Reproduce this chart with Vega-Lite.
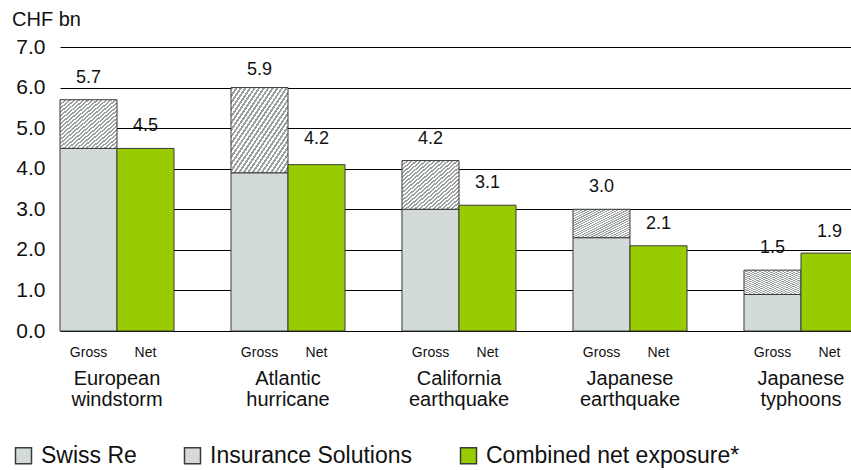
{
  "$schema": "https://vega.github.io/schema/vega-lite/v6.json",
  "width": 798,
  "height": 284,
  "padding": {"left": 12, "top": 10, "right": 0, "bottom": 0},
  "title": {"text": "CHF bn", "anchor": "start", "frame": "bounds", "fontSize": 20, "fontWeight": "normal", "font": "Liberation Sans", "color": "#111", "offset": 6},
  "config": {"view": {"stroke": null}, "font": "Liberation Sans"},
  "datasets": {
    "parts": [
      {"hazard": "European windstorm", "basis": "Gross", "component": "Swiss Re", "value": 4.5},
      {"hazard": "European windstorm", "basis": "Gross", "component": "Insurance Solutions", "value": 1.2},
      {"hazard": "European windstorm", "basis": "Net", "component": "Combined net exposure*", "value": 4.5},
      {"hazard": "Atlantic hurricane", "basis": "Gross", "component": "Swiss Re", "value": 3.9},
      {"hazard": "Atlantic hurricane", "basis": "Gross", "component": "Insurance Solutions", "value": 2.1},
      {"hazard": "Atlantic hurricane", "basis": "Net", "component": "Combined net exposure*", "value": 4.1},
      {"hazard": "California earthquake", "basis": "Gross", "component": "Swiss Re", "value": 3.0},
      {"hazard": "California earthquake", "basis": "Gross", "component": "Insurance Solutions", "value": 1.2},
      {"hazard": "California earthquake", "basis": "Net", "component": "Combined net exposure*", "value": 3.1},
      {"hazard": "Japanese earthquake", "basis": "Gross", "component": "Swiss Re", "value": 2.3},
      {"hazard": "Japanese earthquake", "basis": "Gross", "component": "Insurance Solutions", "value": 0.7},
      {"hazard": "Japanese earthquake", "basis": "Net", "component": "Combined net exposure*", "value": 2.1},
      {"hazard": "Japanese typhoons", "basis": "Gross", "component": "Swiss Re", "value": 0.9},
      {"hazard": "Japanese typhoons", "basis": "Gross", "component": "Insurance Solutions", "value": 0.6},
      {"hazard": "Japanese typhoons", "basis": "Net", "component": "Combined net exposure*", "value": 1.92}
    ],
    "totals": [
      {"hazard": "European windstorm", "basis": "Gross", "total": 5.7},
      {"hazard": "European windstorm", "basis": "Net", "total": 4.5},
      {"hazard": "Atlantic hurricane", "basis": "Gross", "total": 5.9},
      {"hazard": "Atlantic hurricane", "basis": "Net", "total": 4.2},
      {"hazard": "California earthquake", "basis": "Gross", "total": 4.2},
      {"hazard": "California earthquake", "basis": "Net", "total": 3.1},
      {"hazard": "Japanese earthquake", "basis": "Gross", "total": 3.0},
      {"hazard": "Japanese earthquake", "basis": "Net", "total": 2.1},
      {"hazard": "Japanese typhoons", "basis": "Gross", "total": 1.5},
      {"hazard": "Japanese typhoons", "basis": "Net", "total": 1.9}
    ]
  },
  "layer": [
    {
      "data": {"name": "parts"},
      "mark": {"type": "bar", "stroke": "#3a3a3a", "strokeWidth": 1},
      "encoding": {
        "x": {
          "field": "hazard", "type": "nominal",
          "sort": ["European windstorm", "Atlantic hurricane", "California earthquake", "Japanese earthquake", "Japanese typhoons"],
          "scale": {"paddingInner": 0.3333, "paddingOuter": 0},
          "axis": {"title": null, "domain": false, "ticks": false, "labelAngle": 0, "labelExpr": "split(datum.label, ' ')", "labelFontSize": 20, "labelLineHeight": 21, "labelPadding": 37, "labelColor": "#111", "labelLimit": 0}
        },
        "xOffset": {"field": "basis", "type": "nominal", "sort": ["Gross", "Net"], "scale": {"paddingInner": 0, "paddingOuter": 0}},
        "y": {
          "field": "value", "type": "quantitative", "stack": "zero",
          "scale": {"domain": [0, 7], "nice": false},
          "axis": {"title": null, "values": [0, 1, 2, 3, 4, 5, 6, 7], "format": ".1f", "grid": true, "gridColor": "#000", "gridOpacity": 1, "gridWidth": 1, "domain": false, "ticks": false, "labelFontSize": 21, "labelPadding": 15, "labelColor": "#111"}
        },
        "fill": {
          "condition": {"test": "datum.component === 'Insurance Solutions'", "value": {"gradient": "linear", "x1": 0, "y1": 0, "x2": 1, "y2": 1, "stops": [
                {"offset": 0, "color": "#9aa19e"}, {"offset": 0.02, "color": "#9aa19e"}, {"offset": 0.02, "color": "#ffffff"}, {"offset": 0.04, "color": "#ffffff"},
                {"offset": 0.04, "color": "#9aa19e"}, {"offset": 0.06, "color": "#9aa19e"}, {"offset": 0.06, "color": "#ffffff"}, {"offset": 0.08, "color": "#ffffff"},
                {"offset": 0.08, "color": "#9aa19e"}, {"offset": 0.10, "color": "#9aa19e"}, {"offset": 0.10, "color": "#ffffff"}, {"offset": 0.12, "color": "#ffffff"},
                {"offset": 0.12, "color": "#9aa19e"}, {"offset": 0.14, "color": "#9aa19e"}, {"offset": 0.14, "color": "#ffffff"}, {"offset": 0.16, "color": "#ffffff"},
                {"offset": 0.16, "color": "#9aa19e"}, {"offset": 0.18, "color": "#9aa19e"}, {"offset": 0.18, "color": "#ffffff"}, {"offset": 0.20, "color": "#ffffff"},
                {"offset": 0.20, "color": "#9aa19e"}, {"offset": 0.22, "color": "#9aa19e"}, {"offset": 0.22, "color": "#ffffff"}, {"offset": 0.24, "color": "#ffffff"},
                {"offset": 0.24, "color": "#9aa19e"}, {"offset": 0.26, "color": "#9aa19e"}, {"offset": 0.26, "color": "#ffffff"}, {"offset": 0.28, "color": "#ffffff"},
                {"offset": 0.28, "color": "#9aa19e"}, {"offset": 0.30, "color": "#9aa19e"}, {"offset": 0.30, "color": "#ffffff"}, {"offset": 0.32, "color": "#ffffff"},
                {"offset": 0.32, "color": "#9aa19e"}, {"offset": 0.34, "color": "#9aa19e"}, {"offset": 0.34, "color": "#ffffff"}, {"offset": 0.36, "color": "#ffffff"},
                {"offset": 0.36, "color": "#9aa19e"}, {"offset": 0.38, "color": "#9aa19e"}, {"offset": 0.38, "color": "#ffffff"}, {"offset": 0.40, "color": "#ffffff"},
                {"offset": 0.40, "color": "#9aa19e"}, {"offset": 0.42, "color": "#9aa19e"}, {"offset": 0.42, "color": "#ffffff"}, {"offset": 0.44, "color": "#ffffff"},
                {"offset": 0.44, "color": "#9aa19e"}, {"offset": 0.46, "color": "#9aa19e"}, {"offset": 0.46, "color": "#ffffff"}, {"offset": 0.48, "color": "#ffffff"},
                {"offset": 0.48, "color": "#9aa19e"}, {"offset": 0.50, "color": "#9aa19e"}, {"offset": 0.50, "color": "#ffffff"}, {"offset": 0.52, "color": "#ffffff"},
                {"offset": 0.52, "color": "#9aa19e"}, {"offset": 0.54, "color": "#9aa19e"}, {"offset": 0.54, "color": "#ffffff"}, {"offset": 0.56, "color": "#ffffff"},
                {"offset": 0.56, "color": "#9aa19e"}, {"offset": 0.58, "color": "#9aa19e"}, {"offset": 0.58, "color": "#ffffff"}, {"offset": 0.60, "color": "#ffffff"},
                {"offset": 0.60, "color": "#9aa19e"}, {"offset": 0.62, "color": "#9aa19e"}, {"offset": 0.62, "color": "#ffffff"}, {"offset": 0.64, "color": "#ffffff"},
                {"offset": 0.64, "color": "#9aa19e"}, {"offset": 0.66, "color": "#9aa19e"}, {"offset": 0.66, "color": "#ffffff"}, {"offset": 0.68, "color": "#ffffff"},
                {"offset": 0.68, "color": "#9aa19e"}, {"offset": 0.70, "color": "#9aa19e"}, {"offset": 0.70, "color": "#ffffff"}, {"offset": 0.72, "color": "#ffffff"},
                {"offset": 0.72, "color": "#9aa19e"}, {"offset": 0.74, "color": "#9aa19e"}, {"offset": 0.74, "color": "#ffffff"}, {"offset": 0.76, "color": "#ffffff"},
                {"offset": 0.76, "color": "#9aa19e"}, {"offset": 0.78, "color": "#9aa19e"}, {"offset": 0.78, "color": "#ffffff"}, {"offset": 0.80, "color": "#ffffff"},
                {"offset": 0.80, "color": "#9aa19e"}, {"offset": 0.82, "color": "#9aa19e"}, {"offset": 0.82, "color": "#ffffff"}, {"offset": 0.84, "color": "#ffffff"},
                {"offset": 0.84, "color": "#9aa19e"}, {"offset": 0.86, "color": "#9aa19e"}, {"offset": 0.86, "color": "#ffffff"}, {"offset": 0.88, "color": "#ffffff"},
                {"offset": 0.88, "color": "#9aa19e"}, {"offset": 0.90, "color": "#9aa19e"}, {"offset": 0.90, "color": "#ffffff"}, {"offset": 0.92, "color": "#ffffff"},
                {"offset": 0.92, "color": "#9aa19e"}, {"offset": 0.94, "color": "#9aa19e"}, {"offset": 0.94, "color": "#ffffff"}, {"offset": 0.96, "color": "#ffffff"},
                {"offset": 0.96, "color": "#9aa19e"}, {"offset": 0.98, "color": "#9aa19e"}, {"offset": 0.98, "color": "#ffffff"}, {"offset": 1.0, "color": "#ffffff"}
              ]}},
          "field": "component", "type": "nominal",
          "scale": {
            "domain": ["Swiss Re", "Insurance Solutions", "Combined net exposure*"],
            "range": ["#d3dbd8", "#d6d9d8", "#99cc00"]
          },
          "legend": {"title": null, "orient": "none", "legendX": -48, "legendY": 397, "direction": "horizontal", "columns": 3, "columnPadding": 44, "symbolType": "square", "symbolSize": 256, "symbolOpacity": 1, "labelFontSize": 23, "labelOffset": 6, "labelColor": "#111", "labelLimit": 0,
            "encode": {"symbols": {"update": {
              "stroke": {"signal": "datum.value === 'Insurance Solutions' ? '#6f7472' : '#333333'"},
              "strokeWidth": {"value": 1}
            }}}
          }
        },
        "order": {"field": "component", "sort": "descending"}
      }
    },
    {
      "data": {"name": "totals"},
      "mark": {"type": "text", "baseline": "bottom", "dy": -13, "fontSize": 18, "color": "#111"},
      "encoding": {
        "x": {"field": "hazard", "type": "nominal", "sort": ["European windstorm", "Atlantic hurricane", "California earthquake", "Japanese earthquake", "Japanese typhoons"]},
        "xOffset": {"field": "basis", "type": "nominal", "sort": ["Gross", "Net"]},
        "y": {"field": "total", "type": "quantitative"},
        "text": {"field": "total", "type": "quantitative", "format": ".1f"}
      }
    },
    {
      "data": {"name": "totals"},
      "mark": {"type": "text", "baseline": "middle", "dy": 22, "fontSize": 14, "color": "#111"},
      "encoding": {
        "x": {"field": "hazard", "type": "nominal", "sort": ["European windstorm", "Atlantic hurricane", "California earthquake", "Japanese earthquake", "Japanese typhoons"]},
        "xOffset": {"field": "basis", "type": "nominal", "sort": ["Gross", "Net"]},
        "y": {"datum": 0, "type": "quantitative"},
        "text": {"field": "basis", "type": "nominal"}
      }
    }
  ]
}
